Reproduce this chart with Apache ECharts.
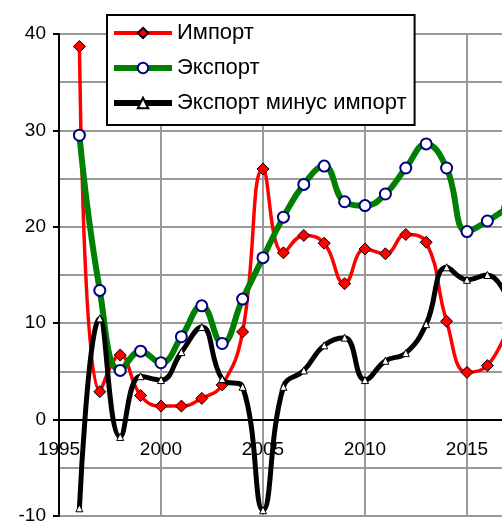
<!DOCTYPE html>
<html><head><meta charset="utf-8">
<script src="https://cdn.jsdelivr.net/npm/echarts@6/dist/echarts.min.js"></script>
<style>html,body{margin:0;padding:0;background:#fff}#c{width:502px;height:525px}</style>
</head><body><div id="c"></div>
<script>
const years = [1996,1997,1998,1999,2000,2001,2002,2003,2004,2005,2006,2007,2008,2009,2010,2011,2012,2013,2014,2015,2016,2017];
const importVals = [38.7,2.9,6.7,2.5,1.4,1.4,2.2,3.6,9.1,26.0,17.3,19.1,18.3,14.1,17.7,17.2,19.2,18.4,10.2,4.9,5.6,9.5];
const exportVals = [29.5,13.4,5.1,7.1,5.9,8.6,11.8,7.9,12.5,16.8,21.0,24.4,26.3,22.6,22.2,23.4,26.1,28.6,26.1,19.5,20.6,22.0];
const netVals = [-9.2,10.5,-1.8,4.5,4.1,7.0,9.6,4.2,3.4,-9.4,3.4,5.1,7.7,8.5,4.1,6.1,6.9,9.9,15.8,14.5,15.0,12.5];
const seriesNames = ['Импорт','Экспорт','Экспорт минус импорт'];

const pair = (vals) => years.map((y,i)=>[y, vals[i]]);
const font = 'Liberation Sans, Arial, sans-serif';
const chart = echarts.init(document.getElementById('c'), null, {renderer:'canvas'});
chart.setOption({
  animation:false,
  backgroundColor:'#fff',
  grid:{left:59, top:34, height:482, width:510, containLabel:false, outerBoundsMode:'none'},
  xAxis:{type:'value', min:1995, max:2020, interval:5,
    axisLine:{onZero:true, lineStyle:{color:'#000', width:2}},
    axisTick:{show:false},
    axisLabel:{color:'#000', fontSize:19, fontFamily:font, margin:-76, formatter:(v)=>String(v)},
    splitLine:{show:true, lineStyle:{color:'#999', width:2}}},
  yAxis:{type:'value', min:-10, max:40, interval:10,
    axisLine:{show:true, lineStyle:{color:'#000', width:2}},
    axisTick:{show:true, length:6, lineStyle:{color:'#000', width:2}},
    axisLabel:{color:'#000', fontSize:19, fontFamily:font, margin:13},
    splitLine:{show:true, lineStyle:{color:'#999', width:2}},
    minorTick:{show:false, splitNumber:2},
    minorSplitLine:{show:true, lineStyle:{color:'#999', width:2}}},
  legend:{show:true, orient:'vertical', left:107, top:15,
    data:[
      {name:seriesNames[0], lineStyle:{width:4}},
      {name:seriesNames[1], lineStyle:{width:6}},
      {name:seriesNames[2], lineStyle:{width:6}}
    ],
    backgroundColor:'#fff', borderColor:'#000', borderWidth:2,
    padding:[6,8,10,4], itemGap:11, itemWidth:58, itemHeight:13,
    textStyle:{fontSize:22, fontFamily:font, color:'#000', lineHeight:24}},
  series:[
    {name:seriesNames[0], type:'line', data:pair(importVals), smooth:0.45,
     lineStyle:{color:'#ff0000', width:3.5}, itemStyle:{color:'#ff0000', borderColor:'#000', borderWidth:1},
     symbol:'diamond', symbolSize:12, z:2},
    {name:seriesNames[1], type:'line', data:pair(exportVals), smooth:0.45,
     lineStyle:{color:'#008000', width:6}, itemStyle:{color:'#fff', borderColor:'#000080', borderWidth:2},
     symbol:'circle', symbolSize:11, z:3},
    {name:seriesNames[2], type:'line', data:pair(netVals), smooth:0.45,
     lineStyle:{color:'#000', width:5}, itemStyle:{color:'#fff', borderColor:'#000', borderWidth:1},
     symbol:'triangle', symbolSize:7, z:4}
  ]
});
</script></body></html>
